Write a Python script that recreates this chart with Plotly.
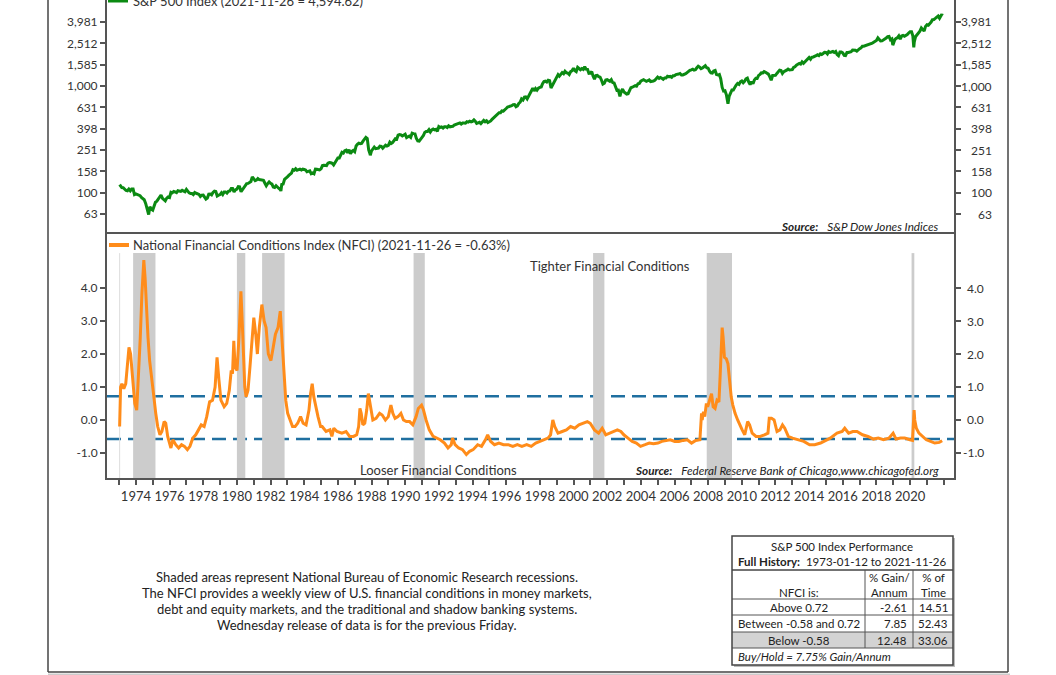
import math
import plotly.graph_objects as go
import pandas as pd

# ---------------- DATA ----------------
sp500_month_end = [
    # 1973
    116.03, 111.68, 111.52, 106.97, 104.95, 104.26, 108.22, 104.25, 108.43, 108.29, 95.96, 97.55,
    # 1974
    96.57, 96.22, 93.98, 90.31, 87.28, 86.00, 79.31, 72.15, 63.54, 73.90, 69.97, 68.56,
    # 1975
    76.98, 81.59, 83.36, 87.30, 91.15, 95.19, 88.75, 86.88, 83.87, 89.04, 91.24, 90.19,
    # 1976
    100.86, 99.71, 102.77, 101.64, 100.18, 104.28, 103.44, 102.91, 105.24, 102.90, 102.10, 107.46,
    # 1977
    102.03, 99.82, 98.42, 98.44, 96.12, 100.48, 98.85, 96.77, 96.53, 92.34, 94.83, 95.10,
    # 1978
    89.25, 87.04, 89.21, 96.83, 97.24, 95.53, 100.68, 103.29, 102.54, 93.15, 94.70, 96.11,
    # 1979
    99.93, 96.28, 101.59, 101.76, 99.08, 102.91, 103.81, 109.32, 109.32, 101.82, 106.16, 107.94,
    # 1980
    114.16, 113.66, 102.09, 106.29, 111.24, 114.24, 121.67, 122.38, 125.46, 127.47, 140.52, 135.76,
    # 1981
    129.55, 131.27, 136.00, 132.81, 132.59, 131.21, 130.92, 122.79, 116.18, 121.89, 126.35, 122.55,
    # 1982
    120.40, 113.11, 111.96, 116.44, 111.88, 109.61, 107.09, 119.51, 120.42, 133.71, 138.54, 140.64,
    # 1983
    145.30, 148.06, 152.96, 164.42, 162.39, 168.11, 162.56, 164.40, 166.07, 163.55, 166.40, 164.93,
    # 1984
    163.41, 157.06, 159.18, 160.05, 150.55, 153.18, 150.66, 166.68, 166.10, 166.09, 163.58, 167.24,
    # 1985
    179.63, 181.18, 180.66, 179.83, 189.55, 191.85, 190.92, 188.63, 182.08, 189.82, 202.17, 211.28,
    # 1986
    211.78, 226.92, 238.90, 235.52, 247.35, 250.84, 236.12, 252.93, 231.32, 243.98, 249.22, 242.17,
    # 1987
    274.08, 284.20, 291.70, 288.36, 290.10, 304.00, 318.66, 329.80, 321.83, 251.79, 230.30, 247.08,
    # 1988
    257.07, 267.82, 258.89, 261.33, 262.16, 273.50, 272.02, 261.52, 271.91, 278.97, 273.70, 277.72,
    # 1989
    297.47, 288.86, 294.87, 309.64, 320.52, 317.98, 346.08, 351.45, 349.15, 340.36, 345.99, 353.40,
    # 1990
    329.08, 331.89, 339.94, 330.80, 361.23, 358.02, 356.15, 322.56, 306.05, 304.00, 322.22, 330.22,
    # 1991
    343.93, 367.07, 375.22, 375.34, 389.83, 371.16, 387.81, 395.43, 387.86, 392.46, 375.22, 417.09,
    # 1992
    408.79, 412.70, 403.69, 414.95, 415.35, 408.14, 424.21, 414.03, 417.80, 418.68, 431.35, 435.71,
    # 1993
    438.78, 443.38, 451.67, 440.19, 450.19, 450.53, 448.13, 463.56, 458.93, 467.83, 461.79, 466.45,
    # 1994
    481.61, 467.14, 445.77, 450.91, 456.50, 444.27, 458.26, 475.49, 462.69, 472.35, 453.69, 459.27,
    # 1995
    470.42, 487.39, 500.71, 514.71, 533.40, 544.75, 562.06, 561.88, 584.41, 581.50, 605.37, 615.93,
    # 1996
    636.02, 640.43, 645.50, 654.17, 669.12, 670.63, 639.95, 651.99, 687.33, 705.27, 757.02, 740.74,
    # 1997
    786.16, 790.82, 757.12, 801.34, 848.28, 885.14, 954.31, 899.47, 947.28, 914.62, 955.40, 970.43,
    # 1998
    980.28, 1049.34, 1101.75, 1111.75, 1090.82, 1133.84, 1120.67, 957.28, 1017.01, 1098.67, 1163.63, 1229.23,
    # 1999
    1279.64, 1238.33, 1286.37, 1335.18, 1301.84, 1372.71, 1328.72, 1320.41, 1282.71, 1362.93, 1388.91, 1469.25,
    # 2000
    1394.46, 1366.42, 1498.58, 1452.43, 1420.60, 1454.60, 1430.83, 1517.68, 1436.51, 1429.40, 1315.23, 1320.28,
    # 2001
    1366.01, 1239.94, 1160.33, 1249.46, 1255.82, 1224.42, 1211.23, 1133.58, 1040.94, 1059.78, 1139.45, 1148.08,
    # 2002
    1130.20, 1106.73, 1147.39, 1076.92, 1067.14, 989.82, 911.62, 916.07, 815.28, 885.76, 936.31, 879.82,
    # 2003
    855.70, 841.15, 848.18, 916.92, 963.59, 974.50, 990.31, 1008.01, 995.97, 1050.71, 1058.20, 1111.92,
    # 2004
    1131.13, 1144.94, 1126.21, 1107.30, 1120.68, 1140.84, 1101.72, 1104.24, 1114.58, 1130.20, 1173.82, 1211.92,
    # 2005
    1181.27, 1203.60, 1180.59, 1156.85, 1191.50, 1191.33, 1234.18, 1220.33, 1228.81, 1207.01, 1249.48, 1248.29,
    # 2006
    1280.08, 1280.66, 1294.87, 1310.61, 1270.09, 1270.20, 1276.66, 1303.82, 1335.85, 1377.94, 1400.63, 1418.30,
    # 2007
    1438.24, 1406.82, 1420.86, 1482.37, 1530.62, 1503.35, 1455.27, 1473.99, 1526.75, 1549.38, 1481.14, 1468.36,
    # 2008
    1378.55, 1330.63, 1322.70, 1385.59, 1400.38, 1280.00, 1267.38, 1282.83, 1166.36, 968.75, 896.24, 903.25,
    # 2009
    825.88, 735.09, 797.87, 872.81, 919.14, 919.32, 987.48, 1020.62, 1057.08, 1036.19, 1095.63, 1115.10,
    # 2010
    1073.87, 1104.49, 1169.43, 1186.69, 1089.41, 1030.71, 1101.60, 1049.33, 1141.20, 1183.26, 1180.55, 1257.64,
    # 2011
    1286.12, 1327.22, 1325.83, 1363.61, 1345.20, 1320.64, 1292.28, 1218.89, 1131.42, 1253.30, 1246.96, 1257.60,
    # 2012
    1312.41, 1365.68, 1408.47, 1397.91, 1310.33, 1362.16, 1379.32, 1406.58, 1440.67, 1412.16, 1416.18, 1426.19,
    # 2013
    1498.11, 1514.68, 1569.19, 1597.57, 1630.74, 1606.28, 1685.73, 1632.97, 1681.55, 1756.54, 1805.81, 1848.36,
    # 2014
    1782.59, 1859.45, 1872.34, 1883.95, 1923.57, 1960.23, 1930.67, 2003.37, 1972.29, 2018.05, 2067.56, 2058.90,
    # 2015
    1994.99, 2104.50, 2067.89, 2085.51, 2107.39, 2063.11, 2103.84, 1972.18, 1920.03, 2079.36, 2080.41, 2043.94,
    # 2016
    1940.24, 1932.23, 2059.74, 2065.30, 2096.95, 2098.86, 2173.60, 2170.95, 2168.27, 2126.15, 2198.81, 2238.83,
    # 2017
    2278.87, 2363.64, 2362.72, 2384.20, 2411.80, 2423.41, 2470.30, 2471.65, 2519.36, 2575.26, 2647.58, 2673.61,
    # 2018
    2823.81, 2713.83, 2640.87, 2648.05, 2705.27, 2718.37, 2816.29, 2901.52, 2913.98, 2711.74, 2760.17, 2506.85,
    # 2019
    2704.10, 2784.49, 2834.40, 2945.83, 2752.06, 2941.76, 2980.38, 2926.46, 2976.74, 3037.56, 3140.98, 3230.78,
    # 2020
    3225.52, 2954.22, 2584.59, 2912.43, 3044.31, 3100.29, 3271.12, 3500.31, 3363.00, 3269.96, 3621.63, 3756.07,
    # 2021
    3714.24, 3811.15, 3972.89, 4181.17, 4204.11, 4297.50, 4395.26, 4522.68, 4307.54, 4605.38,
]
sp500_first_month = "1973-01"

sp500_extra_dates = ["1973-01-12", "1974-10-04", "1982-08-13", "1987-12-04", "2002-10-04",
                     "2009-03-06", "2018-12-21", "2020-03-20", "2021-11-19", "2021-11-26"]
sp500_extra_vals = [119.30, 62.34, 103.85, 223.92, 800.58,
                    683.38, 2416.62, 2304.92, 4697.96, 4594.62]

nfci_dates = [
    "1973-01-12", "1973-02-02", "1973-03-02", "1973-04-13", "1973-05-25", "1973-07-06", "1973-08-03",
    "1973-09-07", "1973-10-19", "1973-12-07", "1974-01-18", "1974-02-22", "1974-04-05", "1974-05-10",
    "1974-06-21", "1974-07-19", "1974-08-16", "1974-09-20", "1974-10-25", "1974-12-06", "1975-01-17",
    "1975-03-07", "1975-04-18", "1975-06-06", "1975-07-18", "1975-09-05", "1975-10-10", "1975-11-21",
    "1976-01-30", "1976-03-12", "1976-05-14", "1976-07-16", "1976-09-17", "1976-11-19", "1977-01-21",
    "1977-03-18", "1977-05-20", "1977-07-22", "1977-09-23", "1977-11-18", "1978-01-20", "1978-03-17",
    "1978-05-19", "1978-07-21", "1978-09-15", "1978-10-27", "1978-12-08", "1979-01-19", "1979-03-30",
    "1979-05-25", "1979-07-20", "1979-08-31", "1979-09-28", "1979-10-26", "1979-11-23", "1980-01-04",
    "1980-02-15", "1980-03-28", "1980-04-25", "1980-05-23", "1980-06-20", "1980-07-18", "1980-08-29",
    "1980-10-10", "1980-11-21", "1981-01-02", "1981-02-13", "1981-03-20", "1981-05-01", "1981-06-26",
    "1981-08-14", "1981-09-25", "1981-11-13", "1982-01-08", "1982-02-26", "1982-04-16", "1982-06-11",
    "1982-07-30", "1982-09-03", "1982-10-15", "1982-11-26", "1983-01-07", "1983-02-25", "1983-04-22",
    "1983-06-17", "1983-08-12", "1983-10-14", "1983-12-09", "1984-02-10", "1984-04-13", "1984-05-18",
    "1984-06-22", "1984-07-27", "1984-09-07", "1984-10-26", "1984-12-21", "1985-01-25", "1985-04-19",
    "1985-07-12", "1985-08-23", "1985-10-04", "1985-12-13", "1986-03-28", "1986-06-27", "1986-09-12",
    "1986-12-05", "1987-02-13", "1987-03-27", "1987-04-24", "1987-05-22", "1987-06-26", "1987-08-07",
    "1987-09-18", "1987-10-23", "1987-11-20", "1987-12-18", "1988-01-29", "1988-04-08", "1988-06-24",
    "1988-08-19", "1988-10-28", "1988-12-30", "1989-02-24", "1989-04-07", "1989-05-26", "1989-07-28",
    "1989-09-29", "1989-11-24", "1990-01-26", "1990-04-06", "1990-06-15", "1990-08-24", "1990-10-12",
    "1990-12-21", "1991-02-01", "1991-03-29", "1991-06-07", "1991-08-30", "1991-11-15", "1992-01-31",
    "1992-05-01", "1992-07-17", "1992-09-25", "1992-10-23", "1992-12-18", "1993-03-05", "1993-05-28",
    "1993-08-20", "1993-10-29", "1994-01-14", "1994-04-22", "1994-07-15", "1994-10-07", "1994-11-25",
    "1995-01-27", "1995-04-21", "1995-07-28", "1995-11-03", "1996-02-16", "1996-05-24", "1996-08-30",
    "1996-12-06", "1997-03-21", "1997-06-27", "1997-10-03", "1997-12-26", "1998-04-03", "1998-06-26",
    "1998-08-21", "1998-10-09", "1998-11-20", "1999-01-29", "1999-04-30", "1999-07-30", "1999-10-29",
    "2000-01-28", "2000-04-28", "2000-07-28", "2000-10-27", "2000-12-29", "2001-03-30", "2001-06-29",
    "2001-09-14", "2001-11-30", "2002-03-01", "2002-05-31", "2002-08-09", "2002-10-25", "2002-12-27",
    "2003-03-28", "2003-06-27", "2003-09-26", "2003-12-26", "2004-04-02", "2004-07-02", "2004-10-01",
    "2005-01-07", "2005-04-01", "2005-07-01", "2005-09-30", "2006-01-06", "2006-04-07", "2006-07-07",
    "2006-10-06", "2007-01-05", "2007-04-06", "2007-07-06", "2007-08-10", "2007-08-24", "2007-09-21",
    "2007-10-19", "2007-11-23", "2007-12-21", "2008-01-25", "2008-03-14", "2008-04-18", "2008-05-30",
    "2008-07-11", "2008-08-22", "2008-09-19", "2008-10-10", "2008-10-31", "2008-11-21", "2008-12-19",
    "2009-01-30", "2009-03-06", "2009-04-10", "2009-05-15", "2009-06-19", "2009-08-07", "2009-10-02",
    "2009-11-13", "2010-01-08", "2010-03-05", "2010-05-07", "2010-06-18", "2010-08-13", "2010-11-05",
    "2011-02-04", "2011-05-06", "2011-07-22", "2011-08-19", "2011-10-07", "2011-12-02", "2012-02-03",
    "2012-04-06", "2012-06-01", "2012-07-20", "2012-10-05", "2013-01-04", "2013-05-03", "2013-09-06",
    "2014-01-10", "2014-05-02", "2014-09-05", "2015-01-02", "2015-04-03", "2015-08-28", "2015-12-18",
    "2016-02-12", "2016-05-06", "2016-08-05", "2016-11-04", "2017-03-03", "2017-06-30", "2017-10-27",
    "2018-02-09", "2018-06-01", "2018-09-28", "2018-12-28", "2019-03-01", "2019-06-07", "2019-09-06",
    "2019-12-27", "2020-02-21", "2020-03-20", "2020-03-27", "2020-04-10", "2020-05-15", "2020-07-10",
    "2020-09-25", "2020-12-18", "2021-03-19", "2021-06-18", "2021-09-24", "2021-11-26",
]
nfci_vals = [
    -0.20, 1.00, 1.10, 0.95, 1.10, 1.80, 2.20,
    2.00, 1.40, 0.50, 0.30, 1.20, 2.50, 3.80,
    4.85, 4.30, 3.30, 2.50, 1.80, 1.20, 0.80,
    0.20, -0.20, -0.45, -0.35, -0.05, -0.10, -0.50,
    -0.85, -0.60, -0.75, -0.85, -0.75, -0.80, -0.90,
    -0.80, -0.55, -0.45, -0.30, -0.15, -0.20, 0.10,
    0.55, 0.60, 1.00, 1.90, 1.20, 0.60, 0.40,
    0.50, 0.90, 1.50, 1.40, 2.40, 1.60, 1.50,
    2.50, 3.90, 3.00, 1.80, 1.00, 0.70, 0.90,
    1.60, 2.50, 3.10, 2.60, 2.00, 2.80, 3.50,
    3.00, 2.80, 2.00, 1.80, 2.20, 2.60, 2.80,
    3.30, 2.50, 1.40, 0.60, 0.20, 0.00, -0.20,
    -0.20, -0.10, 0.10, -0.10, -0.15, 0.30, 0.80,
    1.10, 0.70, 0.40, 0.10, -0.20, -0.20, -0.35,
    -0.30, -0.50, -0.25, -0.35, -0.40, -0.35, -0.50,
    -0.50, -0.45, -0.20, 0.35, 0.20, -0.15, -0.10,
    0.30, 0.80, 0.55, 0.30, 0.00, 0.05, 0.20,
    0.15, 0.00, 0.10, 0.45, 0.20, 0.05, 0.10,
    0.20, 0.00, -0.05, -0.05, -0.15, 0.10, 0.35,
    0.45, 0.30, 0.00, -0.30, -0.50, -0.55, -0.60,
    -0.70, -0.85, -0.75, -0.55, -0.75, -0.85, -0.90,
    -1.05, -0.95, -0.90, -0.75, -0.80, -0.60, -0.45,
    -0.65, -0.75, -0.70, -0.75, -0.75, -0.80, -0.75,
    -0.80, -0.75, -0.80, -0.70, -0.65, -0.60, -0.55,
    -0.45, 0.00, -0.20, -0.40, -0.35, -0.30, -0.20,
    -0.25, -0.15, -0.10, -0.05, -0.10, -0.30, -0.40,
    -0.25, -0.45, -0.40, -0.35, -0.30, -0.35, -0.45,
    -0.55, -0.65, -0.70, -0.80, -0.75, -0.70, -0.72,
    -0.70, -0.65, -0.62, -0.60, -0.65, -0.65, -0.62,
    -0.60, -0.70, -0.62, -0.60, 0.20, 0.00, 0.25,
    0.10, 0.50, 0.40, 0.55, 0.80, 0.40, 0.35,
    0.60, 0.55, 1.40, 2.40, 2.80, 2.50, 1.90,
    1.85, 1.70, 1.20, 0.70, 0.45, 0.20, 0.00,
    -0.15, -0.30, -0.45, -0.05, -0.15, -0.40, -0.50,
    -0.50, -0.45, -0.40, 0.05, 0.05, 0.00, -0.35,
    -0.30, -0.15, -0.25, -0.50, -0.55, -0.60, -0.65,
    -0.75, -0.75, -0.70, -0.62, -0.55, -0.40, -0.35,
    -0.25, -0.40, -0.35, -0.35, -0.45, -0.50, -0.58,
    -0.55, -0.60, -0.55, -0.40, -0.58, -0.55, -0.55,
    -0.60, -0.62, 0.10, 0.30, 0.00, -0.25, -0.40,
    -0.50, -0.60, -0.65, -0.70, -0.68, -0.63,
]

recession_starts = ["1973-11-01", "1980-01-01", "1981-07-01", "1990-07-01", "2001-03-01", "2007-12-01", "2020-02-01"]
recession_ends = ["1975-03-01", "1980-07-01", "1982-11-01", "1991-03-01", "2001-11-01", "2009-06-01", "2020-04-01"]

nfci_upper = 0.72
nfci_lower = -0.58

sp_tick_vals = [63.1, 100, 158.5, 251.2, 398.1, 631.0, 1000, 1585, 2512, 3981]
sp_tick_text = ["63", "100", "158", "251", "398", "631", "1,000", "1,585", "2,512", "3,981"]
nfci_tick_vals = [-1, 0, 1, 2, 3, 4]
nfci_tick_text = ["-1.0", "0.0", "1.0", "2.0", "3.0", "4.0"]
year_tick_vals = [f"{y}-01-01" for y in range(1974, 2021, 2)]
year_tick_text = [str(y) for y in range(1974, 2021, 2)]

table_row_labels = ["Above 0.72", "Between -0.58 and 0.72", "Below -0.58"]
table_gain = ["-2.61", "7.85", "12.48"]
table_time = ["14.51", "52.43", "33.06"]

# ---------------- BUILD ----------------
month_periods = pd.period_range(sp500_first_month, periods=len(sp500_month_end), freq="M")
sp_month_dates = [p.to_timestamp(how="end").normalize() for p in month_periods]
sp_df = pd.DataFrame({
    "date": list(sp_month_dates) + list(pd.to_datetime(sp500_extra_dates)),
    "val": list(sp500_month_end) + list(sp500_extra_vals),
}).sort_values("date")

W, H = 1056, 675
ML, MR, MT, MB = 107, 102, 0, 197
PW = W - ML - MR
PH = H - MT - MB


def px(x):
    return (x - ML) / PW


def py(y):
    return (PH + MT - y) / PH


split = py(232)
FONT = "Lato, 'Open Sans', sans-serif"
TXT = "#333333"
AX = "#555555"
GREEN = "#0b8a12"
ORANGE = "#ff8c1a"
BLUE = "#1f6fa0"

fig = go.Figure()
fig.add_trace(go.Scatter(x=nfci_dates, y=nfci_vals, mode="lines", xaxis="x", yaxis="y",
                         line=dict(color=ORANGE, width=3), hoverinfo="skip", showlegend=False))
fig.add_trace(go.Scatter(x=sp_df["date"], y=sp_df["val"], mode="lines", xaxis="x2", yaxis="y3",
                         line=dict(color=GREEN, width=3), hoverinfo="skip", showlegend=False))

xr = ["1972-04-13", "2022-08-10"]
tickfont = dict(family=FONT, size=13, color=TXT)
ytickfont = dict(family=FONT, size=12, color=TXT)
yax_common = dict(showline=True, linecolor=AX, linewidth=2, ticks="outside", ticklen=5,
                  tickwidth=1.5, tickcolor=AX, showgrid=False, zeroline=False, tickfont=ytickfont,
                  mirror="ticks", fixedrange=True)

fig.update_layout(
    width=W, height=H, margin=dict(l=ML, r=MR, t=MT, b=MB),
    paper_bgcolor="white", plot_bgcolor="white", showlegend=False,
    xaxis=dict(domain=[0, 1], anchor="y", range=xr, type="date", showline=True, linecolor=AX,
               linewidth=2, ticks="outside", ticklen=5, tickwidth=1.5, tickcolor=AX,
               tickmode="array", tickvals=year_tick_vals, ticktext=year_tick_text,
               showgrid=False, tickfont=tickfont,
               minor=dict(dtick="M12", tick0="1973-01-01", ticks="outside", ticklen=5,
                          tickwidth=1.5, tickcolor=AX, showgrid=False)),
    yaxis=dict(domain=[0, split], anchor="x", range=[-1.76, 5.70], tickvals=nfci_tick_vals,
               ticktext=nfci_tick_text, **yax_common),
    xaxis2=dict(domain=[0, 1], anchor="y3", matches="x", range=xr, type="date", showline=True,
                linecolor=AX, linewidth=2, ticks="", showticklabels=False, showgrid=False),
    yaxis3=dict(domain=[split, 1], anchor="x2", type="log", range=[1.632, 3.806],
                tickvals=sp_tick_vals, ticktext=sp_tick_text, **yax_common),
)

shapes = []
for s, e in zip(recession_starts, recession_ends):
    shapes.append(dict(type="rect", xref="x", yref="y", x0=s, x1=e, y0=-1.76, y1=5.06,
                       fillcolor="#cccccc", line=dict(width=0), layer="below"))
shapes.append(dict(type="line", xref="x", yref="y", x0=nfci_dates[0], x1=nfci_dates[0],
                   y0=-1.76, y1=5.06, line=dict(color="#dddddd", width=1), layer="below"))
for v in (nfci_upper, nfci_lower):
    shapes.append(dict(type="line", xref="paper", yref="y", x0=0, x1=1, y0=v, y1=v,
                       line=dict(color=BLUE, width=2.5, dash="14px,7px"), layer="below"))


def pline(x0, y0, x1, y1, color, width):
    shapes.append(dict(type="line", xref="paper", yref="paper", x0=px(x0), y0=py(y0),
                       x1=px(x1), y1=py(y1), line=dict(color=color, width=width)))


def prect(x0, y0, x1, y1, fill, lcolor=None, lwidth=0):
    shapes.append(dict(type="rect", xref="paper", yref="paper", x0=px(x0), y0=py(y0),
                       x1=px(x1), y1=py(y1), fillcolor=fill,
                       line=dict(color=lcolor or fill, width=lwidth)))


pline(108, 0.5, 128, 0.5, GREEN, 4)
pline(109, 245, 129, 245, ORANGE, 4)

pline(48, 0, 48, 672, "#444444", 1.5)
pline(1008, 0, 1008, 672, "#444444", 1.5)
pline(48, 672, 1008, 672, "#444444", 1.5)
pline(48, 674.5, 1010, 674.5, "#cccccc", 2)

TL, TR, TT, TB = 732, 953, 536, 665
C1, C2 = 865, 913
prect(TL + 2, TT + 2, TR + 2, TB + 2, "#bbbbbb")
prect(TL, TT, TR, TB, "white")
prect(TL, 632, TR, 648, "#d3d3d3")
pline(TL, 570, TR, 570, "#444444", 1.5)
for yy in (599, 615, 632, 648):
    pline(TL, yy, TR, yy, "#555555", 1)
for xx in (C1, C2):
    pline(xx, 570, xx, 648, "#555555", 1)
shapes.append(dict(type="rect", xref="paper", yref="paper", x0=px(TL), y0=py(TT), x1=px(TR),
                   y1=py(TB), line=dict(color="#444444", width=1.5)))

fig.update_layout(shapes=shapes)

ann = []


def text(x, y, s, size=12.5, xanchor="center", yanchor="middle", color="#222222", align="center"):
    ann.append(dict(x=px(x), y=py(y), xref="paper", yref="paper", text=s, showarrow=False,
                    xanchor=xanchor, yanchor=yanchor, align=align,
                    font=dict(family=FONT, size=size, color=color)))


# right-hand axis labels (right aligned, like the reference)
for v, t in zip(sp_tick_vals, sp_tick_text):
    ann.append(dict(x=px(994), y=math.log10(v), xref="paper", yref="y3", text=t, showarrow=False,
                    xanchor="right", yanchor="middle", font=ytickfont))
for v, t in zip(nfci_tick_vals, nfci_tick_text):
    ann.append(dict(x=px(986), y=v, xref="paper", yref="y", text=t, showarrow=False,
                    xanchor="right", yanchor="middle", font=ytickfont))

NB = "\u00a0"
text(131, 1, "S&P 500 Index (2021-11-26 = 4,594.62)", size=13, xanchor="left", color=TXT)
text(131, 245, "National Financial Conditions Index (NFCI) (2021-11-26 = -0.63%)", size=13,
     xanchor="left", color=TXT)
text(941, 226, "<b><i>Source:</i></b>" + NB * 3 + "<i>S&P Dow Jones Indices</i>", size=11.7,
     xanchor="right", color="#222222")
text(941, 470, "<b><i>Source:</i></b>" + NB * 3 + "<i>Federal Reserve Bank of Chicago,www.chicagofed.org</i>",
     size=11.7, xanchor="right", color="#222222")
text(610, 266, "Tighter Financial Conditions", size=13, color=TXT)
text(438, 470, "Looser Financial Conditions", size=13, color=TXT)

notes = ["Shaded areas represent National Bureau of Economic Research recessions.",
         "The NFCI provides a weekly view of U.S. financial conditions in money markets,",
         "debt and equity markets, and the traditional and shadow banking systems.",
         "Wednesday release of data is for the previous Friday."]
for i, line in enumerate(notes):
    text(367, 577 + 16 * i, line, size=13)

text(842, 546, "S&P 500 Index Performance", size=11.5)
text(842, 561, "<b>Full History:</b>" + NB * 2 + "1973-01-12 to 2021-11-26", size=11.5)
text(799, 592, "NFCI is:", size=11.5)
text(889, 585, "% Gain/<br>Annum", size=11.5)
text(933, 585, "% of<br>Time", size=11.5)
for i, (lab, g, t) in enumerate(zip(table_row_labels, table_gain, table_time)):
    yy = 607 + 16.5 * i
    text(799, yy, lab, size=11.5)
    text(909, yy, g, size=11.5, xanchor="right")
    text(950, yy, t, size=11.5, xanchor="right")
text(736, 656.5, "<i>Buy/Hold = 7.75% Gain/Annum</i>", size=11.5, xanchor="left")

fig.update_layout(annotations=ann)
fig.write_html("out.html")
